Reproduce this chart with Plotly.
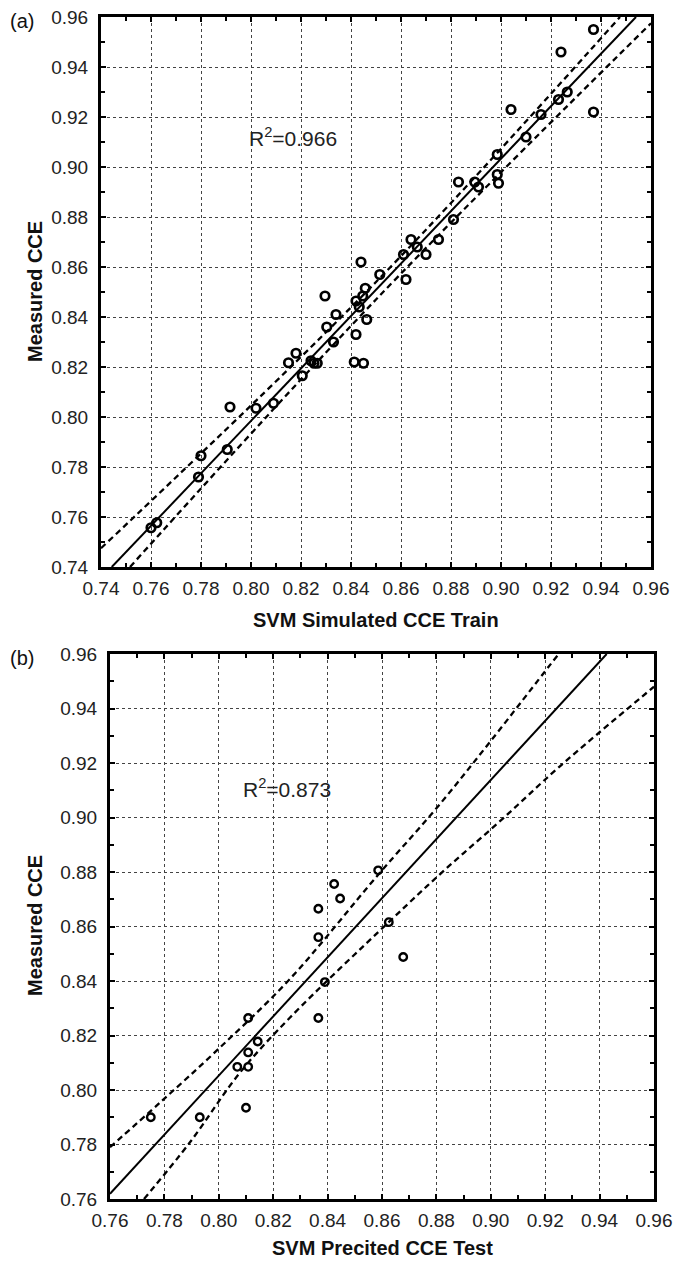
import plotly.graph_objects as go

# ---------------- data ----------------
train_sim = [0.937, 0.924, 0.904, 0.937, 0.9265, 0.923, 0.916, 0.910, 0.8985, 0.8985,
             0.899, 0.883, 0.8895, 0.891, 0.881, 0.875, 0.864, 0.8665, 0.870, 0.861,
             0.844, 0.862, 0.8515, 0.8457, 0.8447, 0.842, 0.8433, 0.8463, 0.842, 0.8296,
             0.834, 0.8303, 0.833, 0.8413, 0.845, 0.818, 0.815, 0.824, 0.8252, 0.8265,
             0.8205, 0.7916, 0.802, 0.809, 0.780, 0.7905, 0.779, 0.7623, 0.760]
train_meas = [0.955, 0.946, 0.923, 0.922, 0.930, 0.927, 0.921, 0.912, 0.905, 0.897,
              0.8935, 0.894, 0.894, 0.892, 0.879, 0.871, 0.871, 0.868, 0.865, 0.865,
              0.862, 0.855, 0.857, 0.8515, 0.8484, 0.8464, 0.844, 0.839, 0.833, 0.8484,
              0.841, 0.836, 0.830, 0.822, 0.8215, 0.8255, 0.8217, 0.8225, 0.8215, 0.8215,
              0.8165, 0.804, 0.8035, 0.8055, 0.7845, 0.787, 0.776, 0.7577, 0.7557]

train_fit_x = [0.7443, 0.954]
train_fit_y = [0.740, 0.960]
train_up_x = [0.740, 0.850, 0.9476]
train_up_y = [0.7475, 0.854, 0.960]
train_lo_x = [0.7516, 0.850, 0.960]
train_lo_y = [0.740, 0.847, 0.9575]

test_pred = [0.775, 0.793, 0.810, 0.8068, 0.8108, 0.8108, 0.8143, 0.8108, 0.8366, 0.839,
             0.8366, 0.8366, 0.8424, 0.8446, 0.8586, 0.8625, 0.8678]
test_meas = [0.790, 0.790, 0.7935, 0.8085, 0.8085, 0.8138, 0.8178, 0.8264, 0.8264, 0.8396,
             0.8561, 0.8665, 0.8756, 0.8703, 0.8806, 0.8616, 0.8488]

test_fit_x = [0.760, 0.9426]
test_fit_y = [0.7619, 0.960]
test_up_x = [0.760, 0.7784, 0.7998, 0.8262, 0.8586, 0.8801, 0.9003, 0.9218, 0.925]
test_up_y = [0.779, 0.7954, 0.815, 0.8408, 0.8790, 0.9035, 0.9285, 0.956, 0.960]
test_lo_x = [0.7725, 0.7894, 0.8078, 0.8262, 0.8629, 0.8832, 0.904, 0.9254, 0.960]
test_lo_y = [0.760, 0.7808, 0.8064, 0.8266, 0.862, 0.8809, 0.8992, 0.9188, 0.948]

ticks_a = [0.74, 0.76, 0.78, 0.80, 0.82, 0.84, 0.86, 0.88, 0.90, 0.92, 0.94, 0.96]
ticks_b = [0.76, 0.78, 0.80, 0.82, 0.84, 0.86, 0.88, 0.90, 0.92, 0.94, 0.96]

# ---------------- figure ----------------
W, H = 677, 1264
FONT = "Liberation Sans, Arial, sans-serif"

fig = go.Figure()

def add_panel(xa, ya, sx, sy, fx, fy, ux, uy, lx, ly, msize, mlw):
    dash = "6px,4px"
    fig.add_trace(go.Scatter(x=fx, y=fy, mode="lines", xaxis=xa, yaxis=ya,
                             line=dict(color="black", width=2), showlegend=False, hoverinfo="skip"))
    fig.add_trace(go.Scatter(x=ux, y=uy, mode="lines", xaxis=xa, yaxis=ya, line_shape="spline",
                             line=dict(color="black", width=2.3, dash=dash), showlegend=False, hoverinfo="skip"))
    fig.add_trace(go.Scatter(x=lx, y=ly, mode="lines", xaxis=xa, yaxis=ya, line_shape="spline",
                             line=dict(color="black", width=2.3, dash=dash), showlegend=False, hoverinfo="skip"))
    fig.add_trace(go.Scatter(x=sx, y=sy, mode="markers", xaxis=xa, yaxis=ya,
                             marker=dict(symbol="circle-open", size=msize, color="black",
                                         line=dict(color="black", width=mlw)),
                             showlegend=False))

add_panel("x", "y", train_sim, train_meas, train_fit_x, train_fit_y,
          train_up_x, train_up_y, train_lo_x, train_lo_y, 8.5, 2.7)
add_panel("x2", "y2", test_pred, test_meas, test_fit_x, test_fit_y,
          test_up_x, test_up_y, test_lo_x, test_lo_y, 7.5, 2.4)

def axis_style(rng, ticks, domain, anchor, standoff):
    return dict(range=rng, domain=domain, anchor=anchor,
                tickmode="array", tickvals=ticks, ticktext=[f"{t:.2f}" for t in ticks],
                ticks="inside", ticklen=5, tickwidth=1.5, tickcolor="black",
                minor=dict(dtick=0.01, tick0=0, ticks="inside", ticklen=4, tickwidth=1.5,
                           tickcolor="black", showgrid=False),
                showline=True, linecolor="black", linewidth=3, mirror="ticks",
                showgrid=True, gridcolor="#444444", gridwidth=1, griddash="dot",
                zeroline=False, tickfont=dict(family=FONT, size=19, color="#222222"),
                ticklabelstandoff=standoff, automargin=False, fixedrange=True)

# panel a pixel box: x 101-651, y 17-567 ; panel b: x 110-654, y 654-1199
xa_dom = [101 / W, 651 / W]
ya_dom = [1 - 567 / H, 1 - 17 / H]
xb_dom = [110 / W, 654 / W]
yb_dom = [1 - 1199 / H, 1 - 654 / H]

fig.update_layout(
    width=W, height=H,
    margin=dict(l=0, r=0, t=0, b=0),
    paper_bgcolor="white", plot_bgcolor="white",
    font=dict(family=FONT, color="#222222"),
    xaxis=axis_style([0.74, 0.96], ticks_a, xa_dom, "y", 2),
    yaxis=axis_style([0.74, 0.96], ticks_a, ya_dom, "x", 6),
    xaxis2=axis_style([0.76, 0.96], ticks_b, xb_dom, "y2", 2),
    yaxis2=axis_style([0.76, 0.96], ticks_b, yb_dom, "x2", 6),
)

ann = []
def paper_txt(text, px, py, size, bold=False, angle=0, xanchor="center"):
    ann.append(dict(text=f"<b>{text}</b>" if bold else text, xref="paper", yref="paper",
                    x=px / W, y=1 - py / H, xanchor=xanchor, yanchor="middle",
                    showarrow=False, textangle=angle,
                    font=dict(family=FONT, size=size, color="#111111")))

paper_txt("SVM Simulated CCE Train", 376, 620, 20, bold=True)
paper_txt("Measured CCE", 35, 292, 20, bold=True, angle=-90)
paper_txt("SVM Precited CCE Test", 382, 1248, 20, bold=True)
paper_txt("Measured CCE", 35, 926, 20, bold=True, angle=-90)
paper_txt("(a)", 8, 21, 20, xanchor="left")
paper_txt("(b)", 8, 658, 20, xanchor="left")

ann.append(dict(text="R<sup>2</sup>=0.966", xref="x", yref="y", x=0.7984, y=0.912,
                xanchor="left", yanchor="middle", showarrow=False,
                font=dict(family=FONT, size=21, color="#222222")))
ann.append(dict(text="R<sup>2</sup>=0.873", xref="x2", yref="y2", x=0.8082, y=0.9109,
                xanchor="left", yanchor="middle", showarrow=False,
                font=dict(family=FONT, size=21, color="#222222")))
fig.update_layout(annotations=ann)

fig.write_html("out.html", config={"displayModeBar": False},
               post_script="document.body.style.margin='0';")
